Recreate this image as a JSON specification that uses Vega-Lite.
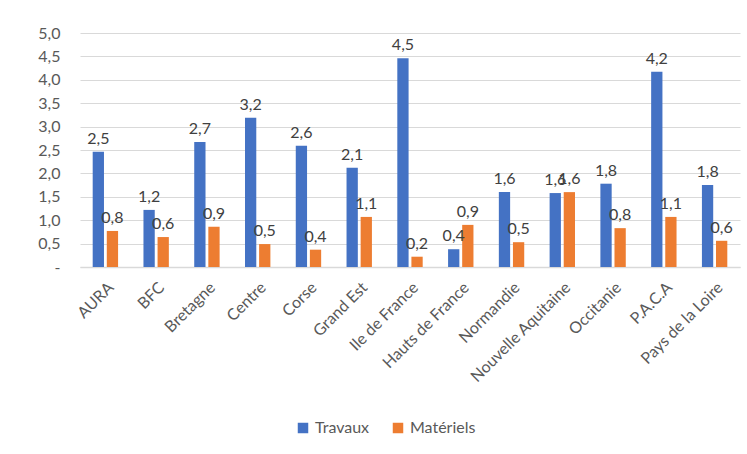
{
  "$schema": "https://vega.github.io/schema/vega-lite/v6.json",
  "autosize": {"type": "none"},
  "width": 660,
  "height": 234,
  "padding": {"left": 80, "top": 33, "right": 7, "bottom": 187},
  "background": "white",
  "config": {
    "locale": {"number": {"decimal": ",", "thousands": " ", "grouping": [3], "currency": ["", " €"]}},
    "font": "Lato",
    "view": {"stroke": null}
  },
  "data": {
    "values": [
      {"region": "AURA", "serie": "Travaux", "valeur": 2.46},
      {"region": "AURA", "serie": "Matériels", "valeur": 0.77},
      {"region": "BFC", "serie": "Travaux", "valeur": 1.22},
      {"region": "BFC", "serie": "Matériels", "valeur": 0.64},
      {"region": "Bretagne", "serie": "Travaux", "valeur": 2.67},
      {"region": "Bretagne", "serie": "Matériels", "valeur": 0.86},
      {"region": "Centre", "serie": "Travaux", "valeur": 3.19},
      {"region": "Centre", "serie": "Matériels", "valeur": 0.49},
      {"region": "Corse", "serie": "Travaux", "valeur": 2.59},
      {"region": "Corse", "serie": "Matériels", "valeur": 0.37},
      {"region": "Grand Est", "serie": "Travaux", "valeur": 2.12},
      {"region": "Grand Est", "serie": "Matériels", "valeur": 1.07},
      {"region": "Ile de France", "serie": "Travaux", "valeur": 4.46},
      {"region": "Ile de France", "serie": "Matériels", "valeur": 0.22},
      {"region": "Hauts de France", "serie": "Travaux", "valeur": 0.38},
      {"region": "Hauts de France", "serie": "Matériels", "valeur": 0.9},
      {"region": "Normandie", "serie": "Travaux", "valeur": 1.6},
      {"region": "Normandie", "serie": "Matériels", "valeur": 0.53},
      {"region": "Nouvelle Aquitaine", "serie": "Travaux", "valeur": 1.58},
      {"region": "Nouvelle Aquitaine", "serie": "Matériels", "valeur": 1.6},
      {"region": "Occitanie", "serie": "Travaux", "valeur": 1.78},
      {"region": "Occitanie", "serie": "Matériels", "valeur": 0.83},
      {"region": "P.A.C.A", "serie": "Travaux", "valeur": 4.17},
      {"region": "P.A.C.A", "serie": "Matériels", "valeur": 1.07},
      {"region": "Pays de la Loire", "serie": "Travaux", "valeur": 1.75},
      {"region": "Pays de la Loire", "serie": "Matériels", "valeur": 0.56}
    ]
  },
  "encoding": {
    "x": {
      "field": "region", "type": "nominal", "sort": null, "title": null,
      "scale": {"paddingInner": 0.5, "paddingOuter": 0.25},
      "axis": {
        "labelAngle": -45, "labelAlign": "right", "labelBaseline": "top",
        "labelFontSize": 16, "labelColor": "#595959", "labelPadding": 12,
        "ticks": false, "domainColor": "#d9d9d9", "domainWidth": 1.5, "grid": false
      }
    },
    "xOffset": {"field": "serie", "type": "nominal", "sort": ["Travaux", "Matériels"], "scale": {"paddingInner": 0.2}},
    "y": {
      "field": "valeur", "type": "quantitative", "title": null,
      "scale": {"domain": [0, 5], "nice": false},
      "axis": {
        "values": [0, 0.5, 1, 1.5, 2, 2.5, 3, 3.5, 4, 4.5, 5],
        "format": ".1f",
        "labelExpr": "datum.value == 0 ? '-' : datum.label",
        "labelFontSize": 16, "labelColor": "#595959", "labelPadding": 20,
        "ticks": false, "domain": false, "gridColor": "#d9d9d9", "gridWidth": 1.2
      }
    },
    "color": {
      "field": "serie", "type": "nominal", "sort": ["Travaux", "Matériels"],
      "scale": {"domain": ["Travaux", "Matériels"], "range": ["#4472C4", "#ED7D31"]},
      "legend": {
        "title": null, "orient": "none", "direction": "horizontal",
        "legendX": 215, "legendY": 387,
        "symbolType": "square", "symbolSize": 110, "symbolStrokeWidth": 0,
        "labelFontSize": 16, "labelColor": "#595959", "columnPadding": 20
      }
    }
  },
  "layer": [
    {"mark": {"type": "bar"}},
    {
      "mark": {"type": "text", "dy": -13, "fontSize": 16, "color": "#404040"},
      "encoding": {
        "text": {"field": "valeur", "type": "quantitative", "format": ".1f"},
        "color": {"value": "#404040"}
      }
    }
  ]
}
